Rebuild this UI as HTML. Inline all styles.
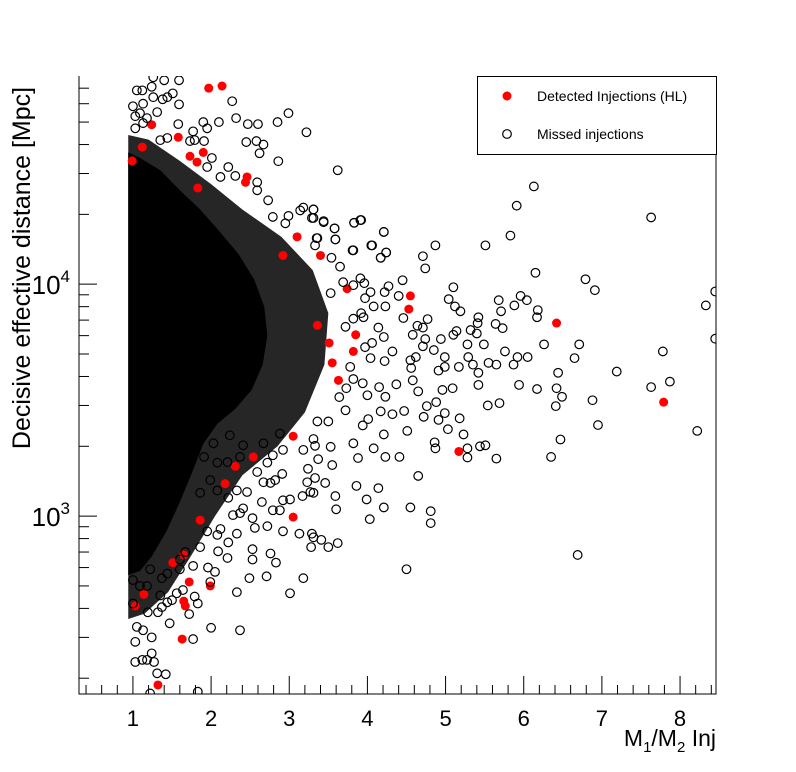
<!DOCTYPE html>
<html><head><meta charset="utf-8"><style>
html,body{margin:0;padding:0;background:#fff;}
svg{display:block;font-family:"Liberation Sans",Arial,sans-serif;}
</style></head><body>
<svg id="chart" width="796" height="772" viewBox="0 0 796 772">
<rect x="0" y="0" width="796" height="772" fill="#fff"/>
<g id="marks"></g>
<g id="axes"></g>
<text x="30" y="268" font-size="25" text-anchor="middle" transform="rotate(-90 30 268)">Decisive effective distance [Mpc]</text>
<text x="716" y="746" font-size="23" text-anchor="end">M<tspan font-size="15" dy="6">1</tspan><tspan dy="-6">/M</tspan><tspan font-size="15" dy="6">2</tspan><tspan dy="-6"> Inj</tspan></text>
<g>
<rect x="477.5" y="76.5" width="239" height="78" fill="#fff" stroke="#000" stroke-width="1"/>
<circle cx="507" cy="96" r="4.5" fill="#ff0000"/>
<text x="537" y="101" font-size="14">Detected Injections (HL)</text>
<circle cx="507" cy="134" r="4.3" fill="none" stroke="#000" stroke-width="1.2"/>
<text x="537" y="139" font-size="14">Missed injections</text>
</g>
</svg>
<script>
// axis ranges
const xRange = [0.31, 8.46];
const yRange = [171, 79000];
const xTickLabels = [1,2,3,4,5,6,7,8];
const yTickLabels = [1000, 10000];
// solid saturated core envelope [ratio, distance]
const coreEnvelope = [[0.94,37000],[1.09,35000],[1.35,31000],[1.6,25400],[1.86,21000],[2.1,17000],[2.35,13500],[2.55,10500],[2.68,8000],[2.72,6000],[2.66,4500],[2.52,3500],[2.31,2900],[2.08,2500],[1.9,2050],[1.76,1550],[1.6,1150],[1.43,860],[1.24,670],[1.09,580],[0.94,557]];
// dense halo envelope
const haloEnvelope = [[0.94,44000],[1.2,42000],[1.6,34000],[2.0,27000],[2.4,21000],[2.9,16000],[3.3,11500],[3.5,7500],[3.45,4500],[3.2,2800],[2.85,2000],[2.4,1500],[2.05,1000],[1.75,680],[1.45,470],[1.15,380],[0.94,360]];
// detected injections [ratio, distance]
const detected = [[4.55,8900],[4.53,7810],[6.42,6800],[7.79,3100],[5.17,1900],[3.85,6050],[3.82,5130],[3.74,9560],[3.63,3850],[3.55,4580],[3.51,5580],[3.4,13300],[3.36,6650],
[1.97,70000],[2.14,71500],[1.24,48700],[1.58,43000],[1.73,35600],[1.82,33600],[1.9,37000],[1.12,39000],[0.99,34000],[2.44,27500],[1.83,26000],[2.46,29000],[3.1,16000],[2.92,13300],
[3.05,2210],[2.54,1800],[2.31,1640],[2.18,1380],[3.05,990],[1.72,520],[1.99,500],[1.65,430],[1.67,410],[1.63,295],[1.32,187],[1.14,460],[1.03,410],[1.51,630],[1.65,680],[1.86,960]];
// missed injections [ratio, distance]
const missed = [[3.62,31000],[6.13,26400],[5.91,21800],[7.63,19400],[5.83,16200],[5.51,14700],[4.87,14700],[4.21,16800],[3.91,18900],[3.83,18400],[4.05,14700],[4.24,13700],[4.17,13000],[4.71,13200],[4.74,11700],[6.15,11200],[6.79,10500],[6.91,9420],[8.45,9300],[8.33,8100],[8.45,5820],[7.78,5130],[7.87,3800],[7.63,3600],[8.22,2330],[6.88,3160],[6.95,2470],[7.19,4200],[6.71,5500],[6.65,4800],[6.44,4150],[6.42,3560],[6.49,3270],[6.41,2980],[6.47,2140],[6.35,1800],[6.69,680],[6.26,5500],[6.17,3530],[6.18,7730],[6.17,7200],[6.04,8530],[5.96,8900],[5.88,8100],[6.05,4850],[5.92,4850],[5.87,4500],[5.94,3680],[5.68,8530],[5.71,7640],[5.64,6740],[5.73,6460],[5.76,5130],[5.65,4500],[5.55,4580],[5.69,3070],[5.54,3000],[5.65,1770],[5.51,2020],[5.44,2000],[5.28,1790],[5.28,1960],[5.23,2250],[5.18,2640],[5.42,7200],[5.41,6790],[5.32,6340],[5.4,6130],[5.49,5500],[5.28,5500],[5.29,4850],[5.35,4500],[5.42,4150],[5.42,3680],[5.17,4400],[5.1,9700],[5.04,8620],[5.12,8020],[5.19,7640],[5.14,6280],[5.1,6050],[4.94,5800],[4.85,5200],[4.99,4850],[4.99,4400],[4.91,4240],[5.09,3560],[4.96,3500],[4.88,3100],[4.76,2980],[4.99,2780],[4.91,2600],[5.03,2370],[4.86,2080],[4.87,1960],
[4.45,10400],[4.4,8900],[4.46,7150],[4.77,7070],[4.64,6620],[4.71,6500],[4.58,6050],[4.74,5800],[4.71,5400],[4.55,4700],[4.62,4850],[4.56,4350],[4.58,3850],[4.65,3450],[4.37,3700],[4.47,2840],[4.72,2680],[4.51,2330],[4.41,1800],[4.23,1800],[4.65,1490],[4.55,1090],[4.81,1050],[4.81,933],[4.21,1090],[4.14,1320],[4.03,970],[3.86,1350],[3.99,1180],[3.59,1220],[3.6,1070],[3.62,765],[3.5,735],[3.41,790],[3.28,735],[3.31,810],[4.5,590],[3.18,540],[3.88,1780],[4.08,1960],[3.82,2060],[4.21,2250],[4.01,2620],[4.17,2830],[4.32,2750],[4.23,8020],[4.22,9240],[4.27,9800],[4.08,8020],[4.14,6500],[4.21,5920],[4.06,5580],[4.32,5130],[4.22,4660],[4.15,3600],[4.23,3270],[4.04,9240],[3.53,9150],[3.81,14000],[3.58,17400],[3.59,15600],[3.44,18700],[3.31,19300],[3.31,21000],[3.35,15800],[3.54,13000],[3.65,11900],[3.91,10600],[3.96,10100],[3.69,10200],[3.82,9900],[3.97,8700],[3.92,7500],[3.82,7100],[3.95,7200],[3.72,6550],[3.97,5350],[4.04,4800],[3.78,4400],[3.82,3900],[3.94,3740],[4.0,3320],[3.73,3560],[3.72,2860],[3.94,2460],[3.64,3260],[3.53,1990],[3.55,1660],[3.37,1760],[3.24,1600],[3.33,1460],[3.46,1390],[3.23,1400],[3.5,2560],[3.36,2560],[3.31,2150],[3.18,1930],[3.27,1270],
[1.26,78000],[1.4,75700],[1.59,75700],[1.05,68500],[1.12,68500],[1.24,71000],[1.51,66500],[1.38,62700],[1.44,64000],[1.26,64000],[1.0,58500],[1.13,60000],[1.59,59600],[1.31,55200],[1.09,54600],[1.03,53000],[1.18,52000],[2.27,61500],[2.99,54600],[2.32,52000],[2.85,50000],[2.47,49000],[2.6,49000],[2.1,50000],[1.9,50000],[1.95,47000],[1.58,49000],[1.77,45600],[3.22,45200],[1.13,49500],[1.03,47000],[2.45,41000],[2.58,41400],[2.67,40000],[2.62,36700],[2.86,33900],[1.79,41800],[1.91,41400],[1.73,41400],[1.44,42700],[1.35,41800],[2.01,35000],[1.95,32000],[2.22,32000],[2.31,29300],[2.12,29000],[2.59,27500],[2.59,25400],[2.73,23000],[3.18,21400],[3.31,21000],[3.29,19300],[3.44,18500],[3.58,17400],[3.83,18400],[3.92,18900],[4.21,16800],[4.06,14700],[4.24,13700],[4.17,13000],[3.82,14000],[3.59,15600],[3.36,15800],[3.33,14700],[2.99,19700],[2.79,19500],[2.95,18300],[3.14,20800],
[1.22,172],[1.83,175],[1.42,208],[1.31,210],[1.24,256],[1.27,235],[1.03,235],[1.12,240],[1.18,240],[1.03,287],[1.24,300],[1.77,295],[2.0,330],[2.37,322],[1.47,345],[1.32,385],[1.37,405],[1.44,425],[1.5,434],[1.19,385],[1.05,333],[1.13,322],[1.35,455],[1.56,465],[1.83,420],[1.72,378],[2.33,470],[3.01,465],[1.99,520],[1.79,450],[1.64,480],[2.49,540],[2.71,550],[2.53,650],[2.83,630],[2.76,690],[2.53,720],[2.09,705],[2.21,660],[1.96,600],[2.05,575],[1.77,610],[1.6,590],[1.44,565],[1.37,540],[1.22,590],[1.09,500],[1.18,500],[1.0,420],[1.0,530],[2.92,860],[3.13,840],[3.29,840],[2.22,770],[2.33,840],[2.08,830],[2.12,880],[1.95,860],[1.86,735],[1.67,700],[1.6,650],[2.56,890],[2.72,905],[2.53,980],[2.65,1150],[2.79,1060],[2.88,1060],[2.92,1170],[3.01,1180],[2.37,1030],[2.28,1010],[2.41,1080],[3.17,1220],[3.31,1260],[2.76,1390],[2.91,1520],[2.82,1430],[2.67,1400],[2.59,1550],[2.46,1270],[2.33,1290],[2.22,1200],[2.08,1290],[3.33,2010],[2.79,1830],[2.72,1700],[2.92,1930],[2.88,2270],[2.67,2060],[2.41,2020],[2.37,1800],[2.21,1710],[2.08,1700],[2.03,2060],[2.24,2230],[1.91,1800],[1.99,1430],[1.86,1260]];

const L=79, R=716, T=76, B=694;
const NS='http://www.w3.org/2000/svg';
function xScale(v){return L+(v-xRange[0])/(xRange[1]-xRange[0])*(R-L);}
function yScale(v){return B-(Math.log10(v)-Math.log10(yRange[0]))/(Math.log10(yRange[1])-Math.log10(yRange[0]))*(B-T);}
function mk(tag,attrs,parent){const e=document.createElementNS(NS,tag);for(const k in attrs)e.setAttribute(k,attrs[k]);parent.appendChild(e);return e;}
const marks=document.getElementById('marks');
const axes=document.getElementById('axes');
const clip=mk('clipPath',{id:'pc'},marks);
mk('rect',{x:L,y:T,width:R-L,height:B-T},clip);
const g=mk('g',{'clip-path':'url(#pc)'},marks);

const halo=mk('polygon',{points:haloEnvelope.map(p=>xScale(p[0])+','+yScale(p[1])).join(' '),fill:'#262626'},g);


const core=mk('polygon',{points:coreEnvelope.map(p=>xScale(p[0])+','+yScale(p[1])).join(' '),fill:'#000'},g);



detected.forEach(p=>{
  const c=mk('circle',{cx:xScale(p[0]),cy:yScale(p[1]),r:4.5,fill:'#ff0000'},g);
  
  
});
missed.forEach(p=>{
  const c=mk('circle',{cx:xScale(p[0]),cy:yScale(p[1]),r:4.3,fill:'none',stroke:'#000','stroke-width':1.2},g);
  
  
});

const frame=mk('path',{d:`M${L},${T}V${B}H${R}V${T}`,fill:'none',stroke:'#000','stroke-width':1},axes);


for(let v=0.4; v<=8.41; v+=0.2){
  const vv=Math.round(v*10)/10;
  const major=Math.abs(vv-Math.round(vv))<1e-6;
  const x=xScale(vv);
  const t=mk('line',{x1:x,x2:x,y1:B,y2:B-(major?18:9),stroke:'#000','stroke-width':1},axes);
  
  
}
xTickLabels.forEach(v=>{
  const t=mk('text',{x:xScale(v),y:726,'font-size':22,'text-anchor':'middle'},axes);
  t.textContent=v;
  
  
});
for(let dec=100; dec<=10000; dec*=10){
  for(let m=1;m<=9;m++){
    const v=dec*m;
    if(v<yRange[0]||v>yRange[1])continue;
    const y=yScale(v);
    const t=mk('line',{x1:L,x2:L+(m===1?18:10),y1:y,y2:y,stroke:'#000','stroke-width':1},axes);
    
    
  }
}
yTickLabels.forEach(v=>{
  const t=mk('text',{x:70,y:yScale(v)+10,'font-size':26,'text-anchor':'end'},axes);
  const e=Math.round(Math.log10(v));
  t.innerHTML='10<tspan font-size="17" dy="-12">'+e+'</tspan>';
  
  
});
</script>
</body></html>
